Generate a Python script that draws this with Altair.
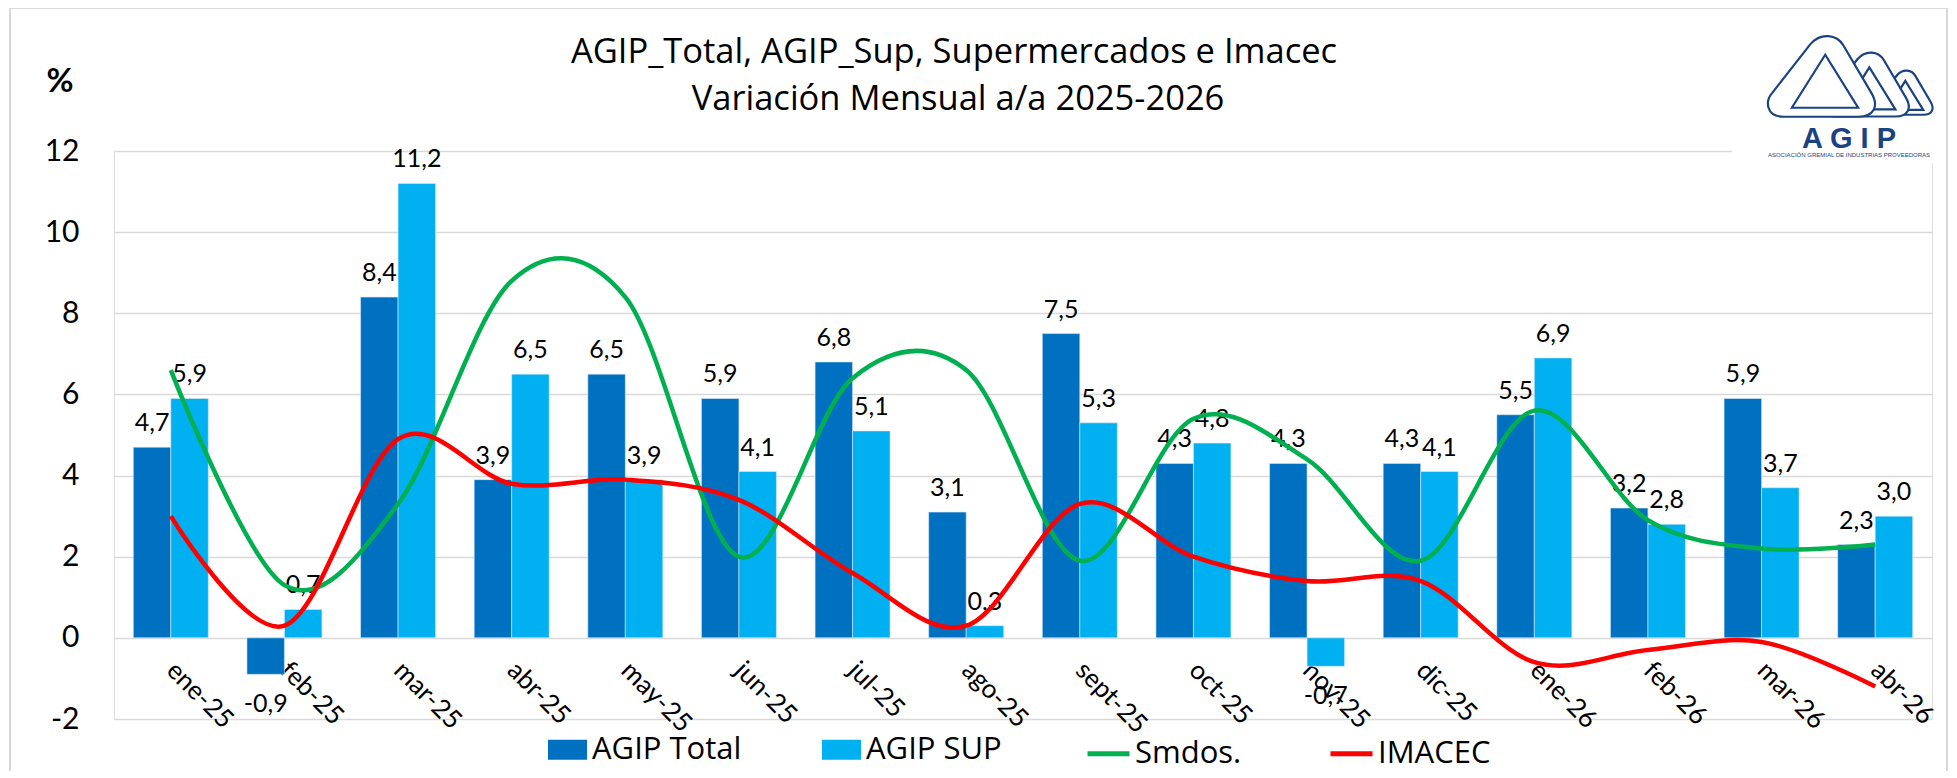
import altair as alt
import pandas as pd

meses = ["ene-25", "feb-25", "mar-25", "abr-25", "may-25", "jun-25", "jul-25", "ago-25",
         "sept-25", "oct-25", "nov-25", "dic-25", "ene-26", "feb-26", "mar-26", "abr-26"]
agip_total = [4.7, -0.9, 8.4, 3.9, 6.5, 5.9, 6.8, 3.1, 7.5, 4.3, 4.3, 4.3, 5.5, 3.2, 5.9, 2.3]
agip_sup = [5.9, 0.7, 11.2, 6.5, 3.9, 4.1, 5.1, 0.3, 5.3, 4.8, -0.7, 4.1, 6.9, 2.8, 3.7, 3.0]
smdos = [6.6, 1.3, 3.3, 8.8, 8.4, 2.0, 6.4, 6.6, 1.9, 5.4, 4.4, 1.9, 5.6, 2.9, 2.2, 2.3]
imacec = [3.0, 0.3, 4.9, 3.8, 3.9, 3.4, 1.6, 0.3, 3.3, 2.0, 1.4, 1.4, -0.6, -0.3, -0.1, -1.2]

series_barras = ["AGIP Total", "AGIP SUP"]
series_lineas = ["Smdos.", "IMACEC"]
colores_barras = ["#0070C0", "#00B0F0"]
colores_lineas = ["#00B050", "#FF0000"]
y_ticks = [-2, 0, 2, 4, 6, 8, 10, 12]

titulo_1 = "AGIP_Total, AGIP_Sup, Supermercados e Imacec"
titulo_2 = "Variación Mensual a/a 2025-2026"
logo_sub = "ASOCIACIÓN GREMIAL DE INDUSTRIAS PROVEEDORAS"

FONT = "Lato"
FONT_W = "Open Sans"
W, H = 1818, 568
Y0 = H * 12 / 14  # pixel row of the zero line
NAVY = "#1B4382"


def fmt(v):
    return f"{v:.1f}".replace(".", ",")


barras = pd.DataFrame(
    [{"mes": m, "serie": s, "valor": v, "etiqueta": fmt(v)}
     for s, vals in zip(series_barras, [agip_total, agip_sup])
     for m, v in zip(meses, vals)]
)
lineas = pd.DataFrame(
    [{"mes": m, "serie": s, "valor": v}
     for s, vals in zip(series_lineas, [smdos, imacec])
     for m, v in zip(meses, vals)]
)

x_enc = alt.X(
    "mes:N", sort=meses, title=None,
    scale=alt.Scale(paddingInner=0.34, paddingOuter=0.17),
    axis=alt.Axis(
        labelAngle=45, labelAlign="left", labelBaseline="middle",
        labelFontSize=26, labelFont=FONT, labelColor="#000000",
        labelPadding=28, ticks=False, tickSize=0, domain=False, grid=False,
        labelOverlap=False, labelBound=False, labelLimit=300,
        offset=-(H - Y0),
    ),
)
y_scale = alt.Scale(domain=[-2, 12], nice=False, zero=False)
y_enc = alt.Y(
    "valor:Q", scale=y_scale, title=None,
    axis=alt.Axis(
        values=y_ticks, labelExpr="'' + datum.value",
        labelFontSize=30, labelFont=FONT, labelColor="#000000",
        labelPadding=35, ticks=False, domain=False, grid=True,
        gridColor="#D9D9D9", gridWidth=1.5,
    ),
)
xoff = alt.XOffset("serie:N", sort=series_barras,
                   scale=alt.Scale(domain=series_barras, paddingInner=0, paddingOuter=0))

bars = alt.Chart(barras).mark_bar(stroke="#D6EAF8", strokeWidth=0.6).encode(
    x=x_enc, xOffset=xoff, y=y_enc,
    color=alt.Color(
        "serie:N",
        scale=alt.Scale(domain=series_barras, range=colores_barras),
        legend=alt.Legend(
            title=None, orient="none", direction="horizontal",
            legendX=434, legendY=579,
            symbolType="M-1,-0.513H1V0.513H-1Z", symbolSize=1521,
            symbolStrokeWidth=0, symbolOpacity=1,
            labelFontSize=31, labelFont=FONT_W, labelColor="#000000",
            labelOffset=5, columnPadding=80, padding=0, labelLimit=400,
        ),
    ),
)

labels_pos = alt.Chart(barras).transform_filter("datum.valor >= 0").mark_text(
    fontSize=25, font=FONT, color="#000000", baseline="alphabetic", dy=-16
).encode(x=alt.X("mes:N", sort=meses), xOffset=xoff, y=alt.Y("valor:Q", scale=y_scale),
         text="etiqueta:N")
labels_neg = alt.Chart(barras).transform_filter("datum.valor < 0").mark_text(
    fontSize=25, font=FONT, color="#000000", baseline="alphabetic", dy=38
).encode(x=alt.X("mes:N", sort=meses), xOffset=xoff, y=alt.Y("valor:Q", scale=y_scale),
         text="etiqueta:N")

lines = alt.Chart(lineas).mark_line(interpolate="cardinal", strokeWidth=4.5).encode(
    x=alt.X("mes:N", sort=meses),
    y=alt.Y("valor:Q", scale=y_scale),
    color=alt.Color(
        "serie:N",
        scale=alt.Scale(domain=series_lineas, range=colores_lineas),
        legend=alt.Legend(
            title=None, orient="none", direction="horizontal",
            legendX=971, legendY=579,
            symbolType="stroke", symbolSize=1764, symbolStrokeWidth=5,
            labelFontSize=31, labelFont=FONT_W, labelColor="#000000",
            labelOffset=3, columnPadding=78, padding=0, labelLimit=400,
        ),
    ),
    detail="serie:N",
)

one = alt.Data(values=[{"k": 1}])
border = alt.Chart(one).mark_rect(fill=None, stroke="#D9D9D9", strokeWidth=2).encode(
    x=alt.value(-104), x2=alt.value(1833), y=alt.value(-143), y2=alt.value(640))

title1 = alt.Chart(one).mark_text(fontSize=34.5, font=FONT_W, color="#000000",
                                  baseline="alphabetic").encode(
    x=alt.value(840), y=alt.value(-88), text=alt.value(titulo_1))
title2 = alt.Chart(one).mark_text(fontSize=34.5, font=FONT_W, color="#000000",
                                  baseline="alphabetic").encode(
    x=alt.value(844), y=alt.value(-41), text=alt.value(titulo_2))
pct = alt.Chart(one).mark_text(fontSize=33, font=FONT, fontWeight="bold", color="#000000",
                               baseline="alphabetic").encode(
    x=alt.value(-54), y=alt.value(-59), text=alt.value("%"))

logo_bg = alt.Chart(one).mark_rect(fill="white", stroke=None).encode(
    x=alt.value(1618), x2=alt.value(1826), y=alt.value(-120), y2=alt.value(12))
loop_path = ("M -0.7 0.75 C -1.05 0.75 -1.05 0.45 -0.92 0.3 L -0.2 -0.62 "
             "C 0 -0.85 0.3 -0.8 0.42 -0.6 L 0.95 0.3 C 1.1 0.55 1 0.75 0.7 0.75 Z "
             "M -0.55 0.58 L 0.08 -0.42 L 0.7 0.58 Z")
loops = []
for lx, ly, ls in [(1789, -58, 58 ** 2), (1752, -66, 84 ** 2), (1707, -74, 106 ** 2)]:
    loops.append(alt.Chart(one).mark_point(shape=loop_path, fill="white", stroke=NAVY,
                                           strokeWidth=2.2, opacity=1, fillOpacity=1).encode(
        x=alt.value(lx), y=alt.value(ly), size=alt.value(ls)))
logo_text = alt.Chart(one).mark_text(fontSize=29, font="Liberation Sans", fontWeight="bold",
                                     color=NAVY, baseline="alphabetic").encode(
    x=alt.value(1735), y=alt.value(-3), text=alt.value("A    G    I    P"))
logo_sub_t = alt.Chart(one).mark_text(fontSize=6, font="Liberation Sans", color=NAVY,
                                      baseline="middle").encode(
    x=alt.value(1735), y=alt.value(4), text=alt.value(logo_sub))

chart = alt.layer(
    border, bars, labels_pos, labels_neg, lines,
    title1, title2, pct, logo_bg, *loops, logo_text, logo_sub_t,
).resolve_scale(color="independent").properties(
    width=W, height=H,
    autosize=alt.AutoSizeParams(type="none"),
    padding={"left": 106, "top": 143, "right": 17, "bottom": 52},
).configure_view(stroke=None).configure(background="white")

chart.save("out.html", embed_options={"renderer": "svg", "actions": False})
